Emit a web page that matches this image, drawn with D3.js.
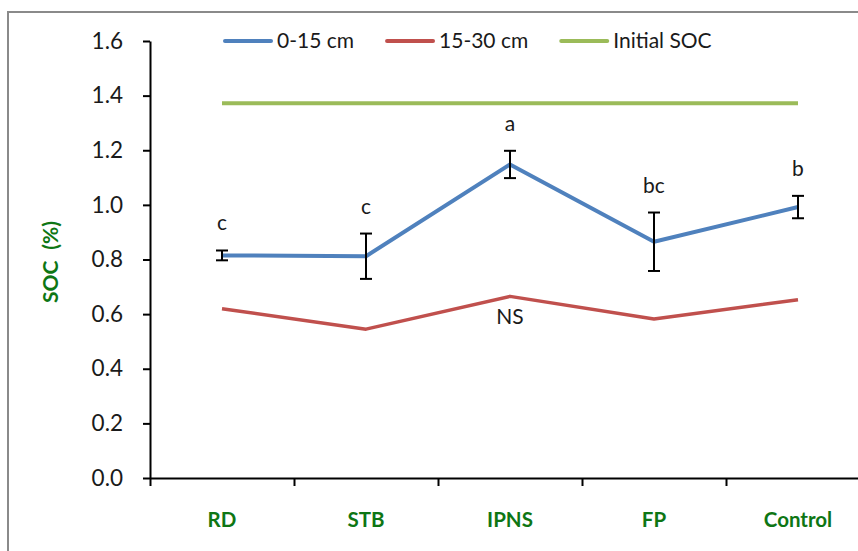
<!DOCTYPE html>
<html>
<head>
<meta charset="utf-8">
<script src="https://cdn.jsdelivr.net/npm/d3@7"></script>
<style>
  body { margin: 0; background: #fff; }
  svg { display: block; font-family: Lato, "Open Sans", sans-serif; }
</style>
</head>
<body>
<svg id="chart"></svg>
<script>
// data
const categories = ["RD", "STB", "IPNS", "FP", "Control"];
const soc0to15 = [0.815, 0.812, 1.148, 0.865, 0.992];
const err0to15 = [0.018, 0.083, 0.05, 0.107, 0.041];
const soc15to30 = [0.62, 0.545, 0.665, 0.582, 0.653];
const initialSoc = 1.372;
const letters = ["c", "c", "a", "bc", "b"];
const yTicks = [0, 0.2, 0.4, 0.6, 0.8, 1.0, 1.2, 1.4, 1.6];
const legendNames = ["0-15 cm", "15-30 cm", "Initial SOC"];

const blue = "#4F81BD", red = "#C0504D", green = "#9BBB59";
const labelGreen = "#0E7614";

const W = 858, H = 551;
const svg = d3.select("#chart").attr("width", W).attr("height", H);

// outer chart border (cut off at right and bottom like the original)
svg.append("rect")
    .attr("x", 8).attr("y", 12)
    .attr("width", 1000).attr("height", 700)
    .attr("fill", "none")
    .attr("stroke", "#8a8a8a")
    .attr("stroke-width", 2);

// scales
const x = d3.scaleBand().domain(categories).range([150, 870]).padding(0);
const xb = d3.scaleLinear().domain([0, categories.length]).range([150, 870]);
const y = d3.scaleLinear().domain([0, 1.6]).range([478, 41]);
const cx = d => x(d) + x.bandwidth() / 2;

// y axis
const yAxis = svg.append("g")
    .attr("transform", "translate(150,0)")
    .call(d3.axisLeft(y).tickValues(yTicks).tickFormat(d3.format(".1f"))
        .tickSizeInner(7).tickSizeOuter(0).tickPadding(20));
yAxis.select(".domain").attr("stroke", "#000").attr("stroke-width", 2);
yAxis.selectAll(".tick line").attr("stroke", "#000").attr("stroke-width", 2);
yAxis.selectAll(".tick text")
    .attr("font-size", 22.5).attr("fill", "#1a1a1a")
    .attr("font-family", "Lato, sans-serif");

// x axis: ticks between categories
const xAxis = svg.append("g")
    .attr("transform", "translate(0,478)")
    .call(d3.axisBottom(xb).tickValues(d3.range(categories.length + 1)).tickFormat("")
        .tickSizeInner(8).tickSizeOuter(0));
xAxis.select(".domain").attr("stroke", "#000").attr("stroke-width", 2);
xAxis.selectAll(".tick line").attr("stroke", "#000").attr("stroke-width", 2);

// category labels
svg.append("g").selectAll("text")
    .data(categories)
    .enter().append("text")
    .attr("x", d => cx(d))
    .attr("y", 527)
    .attr("text-anchor", "middle")
    .attr("font-size", 20.5)
    .attr("font-weight", "bold")
    .attr("fill", labelGreen)
    .text(d => d);

// y axis title
const yTitle = svg.append("text")
    .attr("transform", "translate(58,262) rotate(-90)")
    .attr("text-anchor", "middle")
    .attr("font-size", 21)
    .attr("font-weight", "bold")
    .attr("fill", labelGreen);
yTitle.append("tspan").text("SOC");
yTitle.append("tspan").attr("dx", 11).text("(%)");

// initial SOC line
svg.append("line")
    .attr("x1", cx(categories[0])).attr("x2", cx(categories[categories.length - 1]))
    .attr("y1", y(initialSoc)).attr("y2", y(initialSoc))
    .attr("stroke", green).attr("stroke-width", 4);

// lines
const line = d3.line()
    .x((d, i) => cx(categories[i]))
    .y(d => y(d));

svg.append("path")
    .datum(soc15to30)
    .attr("d", line)
    .attr("fill", "none")
    .attr("stroke", red)
    .attr("stroke-width", 3.5)
    .attr("stroke-linejoin", "round");

svg.append("path")
    .datum(soc0to15)
    .attr("d", line)
    .attr("fill", "none")
    .attr("stroke", blue)
    .attr("stroke-width", 4)
    .attr("stroke-linejoin", "round");

// error bars
const eb = svg.append("g").attr("stroke", "#000").attr("stroke-width", 2);
soc0to15.forEach((v, i) => {
    const px = cx(categories[i]);
    const e = err0to15[i];
    eb.append("line").attr("x1", px).attr("x2", px)
        .attr("y1", y(v + e)).attr("y2", y(v - e));
    [v + e, v - e].forEach(c => {
        eb.append("line").attr("x1", px - 6).attr("x2", px + 6)
            .attr("y1", y(c)).attr("y2", y(c));
    });
});

// significance letters
svg.append("g").selectAll("text")
    .data(letters)
    .enter().append("text")
    .attr("x", (d, i) => cx(categories[i]))
    .attr("y", (d, i) => y(soc0to15[i] + err0to15[i]) - 20)
    .attr("text-anchor", "middle")
    .attr("font-size", 21)
    .attr("fill", "#1a1a1a")
    .text(d => d);

svg.append("text")
    .attr("x", cx("IPNS"))
    .attr("y", y(soc15to30[2]) + 28)
    .attr("text-anchor", "middle")
    .attr("font-size", 21)
    .attr("fill", "#1a1a1a")
    .text("NS");

// legend
const legendColors = [blue, red, green];
let lx = 225;
legendNames.forEach((name, i) => {
    const g = svg.append("g").attr("transform", `translate(${lx},41)`);
    g.append("line")
        .attr("x1", 0).attr("x2", 46)
        .attr("stroke", legendColors[i])
        .attr("stroke-width", 4)
        .attr("stroke-linecap", "round");
    const t = g.append("text")
        .attr("x", 52).attr("y", 7)
        .attr("font-size", 21)
        .attr("fill", "#1a1a1a")
        .text(name);
    lx += 52 + t.node().getComputedTextLength() + 33;
});
</script>
</body>
</html>
